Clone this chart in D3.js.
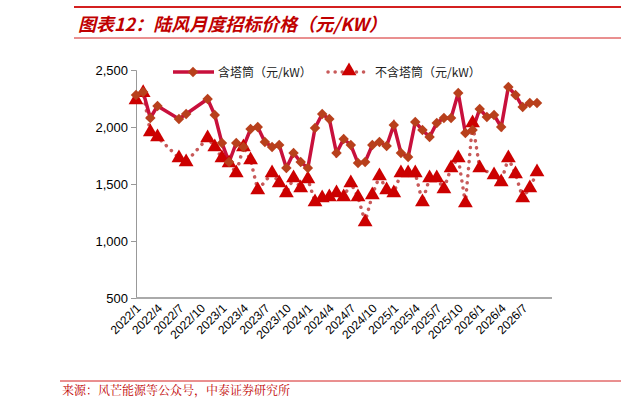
<!DOCTYPE html>
<html><head><meta charset="utf-8">
<script src="https://cdn.jsdelivr.net/npm/d3@7"></script>
<style>body{margin:0;background:#fff}svg{display:block}</style>
</head><body>
<svg id="c" width="621" height="408"></svg>
<script>
// months 2022/1 .. 2026/9
const categories = [];
for (let y = 2022; y <= 2026; y++) for (let m = 1; m <= 12; m++) if (categories.length < 57) categories.push(y + "/" + m);
const tickLabels = ["2022/1","2022/4","2022/7","2022/10","2023/1","2023/4","2023/7","2023/10","2024/1","2024/4","2024/7","2024/10","2025/1","2025/4","2025/7","2025/10","2026/1","2026/4","2026/7"];
const yTicks = [500, 1000, 1500, 2000, 2500];
// 含塔筒: [month index, value]
const withTower = [[0,2281],[1,2307],[2,2079],[3,2184],[6,2070],[7,2114],
[10,2246],[11,2105],[12,1860],[13,1693],[14,1860],[15,1825],[16,1982],[17,2000],[18,1868],[19,1825],[20,1842],[21,1640],[22,1772],[23,1693],[24,1640],[25,1991],[26,2114],[27,2070],[28,1772],[29,1895],[30,1842],[31,1684],[32,1693],[33,1842],[34,1868],[35,1833],[36,2018],[37,1772],[38,1737],[39,2044],[40,1974],[41,1912],[42,2035],[43,2079],[44,2079],[45,2298],[46,1947],[47,1974],[48,2158],[49,2088],[50,2105],[51,2000],[52,2351],[53,2281],[54,2175],[55,2211],[56,2211]];
// 不含塔筒
const withoutTower = [[0,2237],[1,2300],[2,1956],[3,1912],[6,1728],[7,1693],
[10,1904],[11,1825],[12,1728],[13,1684],[14,1596],[15,1825],[16,1711],[17,1447],[19,1596],[20,1509],[21,1421],[22,1553],[23,1465],[24,1544],[25,1342],[26,1377],[27,1386],[28,1421],[29,1386],[30,1509],[31,1386],[32,1167],[33,1404],[34,1570],[35,1447],[36,1421],[37,1596],[38,1596],[39,1596],[40,1342],[41,1553],[42,1553],[43,1456],[44,1640],[45,1728],[46,1333],[47,2035],[48,1640],[50,1579],[51,1518],[52,1728],[53,1588],[54,1377],[55,1465],[56,1605]];

const svg = d3.select("#c");
const red = "#c00000";
svg.append("line").attr("x1",74).attr("x2",621).attr("y1",7).attr("y2",7).attr("stroke","#d42020").attr("stroke-width",2);
svg.append("text").attr("x",78).attr("y",31).attr("fill",red).attr("font-size",18).attr("font-weight","bold").attr("font-style","italic")
  .attr("font-family","'Noto Sans CJK SC',sans-serif").text("图表12：陆风月度招标价格（元/KW）");
svg.append("line").attr("x1",74).attr("x2",621).attr("y1",38).attr("y2",38).attr("stroke","#d42020").attr("stroke-width",1);
svg.append("line").attr("x1",60).attr("x2",621).attr("y1",381).attr("y2",381).attr("stroke","#d42020").attr("stroke-width",1);
svg.append("text").attr("x",62).attr("y",395).attr("fill",red).attr("font-size",12)
  .attr("font-family","'Noto Serif CJK SC','Noto Sans CJK SC',serif").text("来源：风芒能源等公众号，中泰证券研究所");

const x = d3.scaleLinear().domain([0,56]).range([136,537]);
const y = d3.scaleLinear().domain([500,2500]).range([298,70]);

const ya = svg.append("g").attr("transform","translate(136,0)").call(d3.axisLeft(y).tickValues(yTicks).tickFormat(d3.format(",")).tickSize(5));
ya.select(".domain").attr("stroke","#999");
ya.selectAll(".tick line").attr("stroke","#999");
ya.selectAll("text").attr("font-size",13).attr("fill","#000").attr("font-family","Liberation Sans, Arial");
const xa = svg.append("g").attr("transform","translate(0,298)")
  .call(d3.axisBottom(x).tickValues(tickLabels.map(t=>categories.indexOf(t))).tickFormat(i=>categories[i]).tickSize(0));
xa.select(".domain").attr("stroke","#aaa").attr("stroke-width",2).attr("d","M136,0H552");
xa.selectAll("text").attr("font-size",12).attr("fill","#000").attr("font-family","Liberation Sans, Arial")
  .attr("text-anchor","end").attr("transform","translate(2,8) rotate(-45)").attr("dy","0.35em").attr("dx",0).attr("y",0);

const line = d3.line().x(d=>x(d[0])).y(d=>y(d[1]));
svg.append("path").datum(withoutTower).attr("d",line).attr("fill","none").attr("stroke","#c85a5a").attr("stroke-width",3.5)
  .attr("stroke-linecap","round").attr("stroke-dasharray","0.1 7");
svg.append("path").datum(withTower).attr("d",line).attr("fill","none").attr("stroke","#c8103c").attr("stroke-width",3.5);
const tri = d3.symbol().type(d3.symbolTriangle).size(95);
svg.selectAll(".t").data(withoutTower).join("path").attr("d",tri)
  .attr("transform",d=>`translate(${x(d[0])},${y(d[1])})`).attr("fill","#cc0000");
const dia = d3.symbol().type(d3.symbolSquare).size(55);
svg.selectAll(".dm").data(withTower).join("path").attr("d",dia)
  .attr("transform",d=>`translate(${x(d[0])},${y(d[1])}) rotate(45)`).attr("fill","#b8401c");

// legend
const lg = svg.append("g").attr("font-family","'Noto Sans CJK SC',sans-serif").attr("font-size",12);
lg.append("line").attr("x1",173).attr("x2",214).attr("y1",72).attr("y2",72).attr("stroke","#c8103c").attr("stroke-width",3.5);
lg.append("path").attr("d",dia).attr("transform","translate(193,72) rotate(45)").attr("fill","#b8401c");
lg.append("text").attr("x",218).attr("y",76.5).text("含塔筒（元/kW）").attr("fill","#222");
lg.append("line").attr("x1",328).attr("x2",368).attr("y1",72).attr("y2",72).attr("stroke","#c85a5a").attr("stroke-width",3.5)
  .attr("stroke-linecap","round").attr("stroke-dasharray","0.1 7");
lg.append("path").attr("d",tri).attr("transform","translate(349,71)").attr("fill","#cc0000");
lg.append("text").attr("x",375).attr("y",76.5).text("不含塔筒（元/kW）").attr("fill","#222");
</script>
</body></html>
